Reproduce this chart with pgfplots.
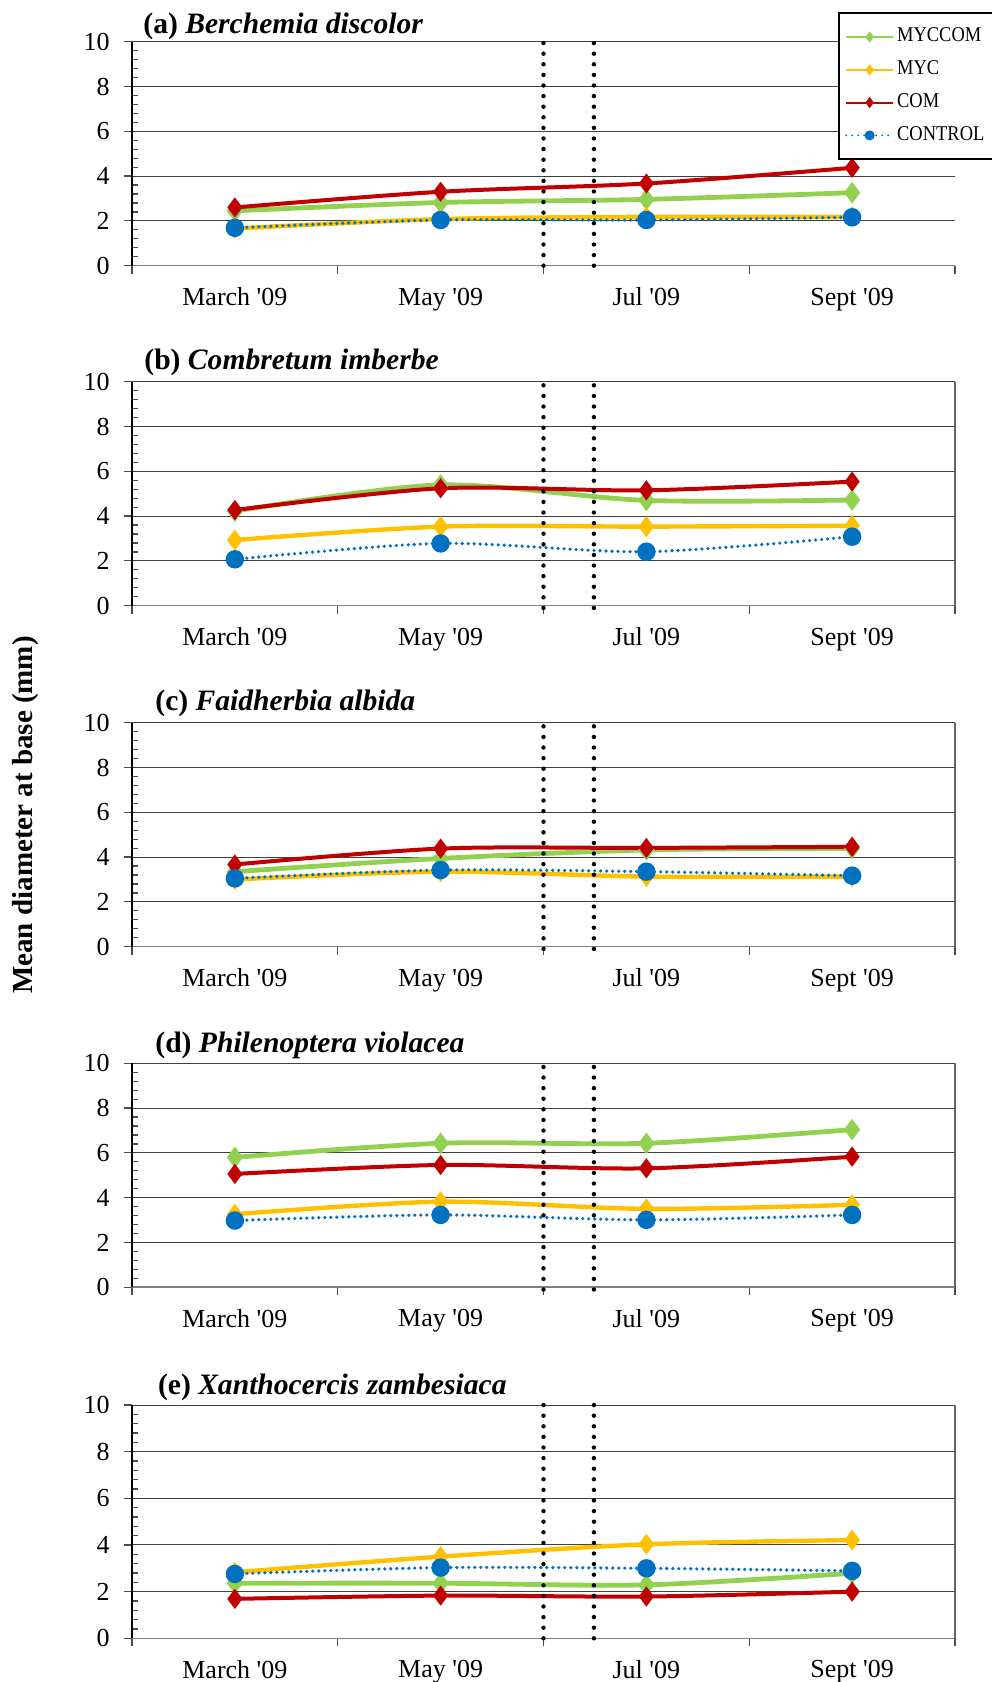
\documentclass[border=0pt]{standalone}
\usepackage{fontspec}
\setmainfont{Liberation Serif}
\newfontfamily\legfont[FakeStretch=0.88]{Liberation Serif}
\usepackage{pgfplots}
\usepackage{pgfplotstable}
\pgfplotsset{compat=1.18}
\definecolor{cgreen}{HTML}{92D050}
\definecolor{cyellow}{HTML}{FFC000}
\definecolor{cred}{HTML}{C00000}
\definecolor{cblue}{HTML}{0070C0}

\pgfplotstableread{
x g y r b
1 2.45 1.66 2.60 1.69
2 2.82 2.08 3.30 2.04
3 2.96 2.18 3.67 2.04
4 3.26 2.18 4.37 2.16
}\dataA
\pgfplotstableread{
x g y r b
1 4.22 2.93 4.27 2.07
2 5.39 3.53 5.24 2.78
3 4.70 3.53 5.15 2.41
4 4.72 3.57 5.54 3.08
}\dataB
\pgfplotstableread{
x g y r b
1 3.35 3.00 3.67 3.05
2 3.94 3.35 4.38 3.42
3 4.32 3.13 4.41 3.35
4 4.39 3.13 4.46 3.17
}\dataC
\pgfplotstableread{
x g y r b
1 5.80 3.26 5.06 2.98
2 6.43 3.82 5.46 3.23
3 6.43 3.50 5.31 3.01
4 7.04 3.68 5.83 3.23
}\dataD
\pgfplotstableread{
x g y r b
1 2.36 2.83 1.69 2.76
2 2.36 3.50 1.83 3.03
3 2.29 4.03 1.79 3.00
4 2.79 4.21 2.00 2.89
}\dataE

\tikzset{ttl/.style={anchor=base west, inner sep=0pt, font=\fontsize{14.8}{17}\selectfont\bfseries}}

\pgfplotsset{
  leg/.style={legend image code/.code={\draw[mark repeat=2,mark phase=2,line width=1pt] plot coordinates {(0pt,0pt) (11.75pt,0pt) (23.5pt,0pt)};}},
  sgreen/.style={cgreen, line width=2.4pt, smooth, tension=0.5, mark=diamond*, mark size=3.4pt, mark options={solid, fill=cgreen}, leg},
  syellow/.style={cyellow, line width=2.2pt, smooth, tension=0.5, mark=diamond*, mark size=3.4pt, mark options={solid, fill=cyellow}, leg},
  sred/.style={cred, line width=2pt, smooth, tension=0.5, mark=diamond*, mark size=3.4pt, mark options={solid, fill=cred}, leg},
  sblue/.style={cblue, line width=1.8pt, dash pattern=on 0pt off 3pt, line cap=round, smooth, tension=0.5, mark=*, mark size=3.7pt, mark options={solid, fill=cblue}, leg},
  vline/.style={black, line width=2.2pt, dash pattern=on 0pt off 5.3pt, line cap=round, forget plot},
  panel/.style 2 args={
    at={(66pt,#1)}, anchor=south west, scale only axis,
    width=411.5pt, height=#2,
    xmin=0.5, xmax=4.5, ymin=0, ymax=10,
    axis lines*=left, clip=false,
    x axis line style={draw=black!50, line width=0.8pt},
    y axis line style={draw=black, line width=0.6pt},
    ytick={0,2,...,10}, minor y tick num=4,
    ymajorgrids, major grid style={black!75, line width=0.5pt},
    xtick={0.5,1.5,...,4.5}, xticklabels={},
    extra x ticks={1,2,3,4},
    extra x tick labels={March \textquotesingle09, May \textquotesingle09, Jul \textquotesingle09, Sept \textquotesingle09},
    extra x tick style={major tick length=0pt},
    tick align=outside, major tick length=4pt, minor tick length=3pt,
    minor y tick style={xshift=3pt},
    tick style={black!70, line width=0.6pt},
    tick label style={font=\fontsize{13}{15}\selectfont},
    /pgf/number format/assume math mode=true,
    yticklabel style={xshift=-3.7pt},
    xticklabel style={yshift=-7.6pt},
  },
}

\begin{document}
\begin{tikzpicture}
\useasboundingbox (0,0) rectangle (495.5pt,841pt);

% (a)
\begin{axis}[panel={708.15pt}{112pt},
  legend cell align=left,
  legend style={at={(0.858,1.1326)}, anchor=north west, draw=black, line width=1pt, fill=white,
    font=\legfont\fontsize{10.5}{12}\selectfont, row sep=6.4pt, inner xsep=3pt, inner ysep=7pt,
    nodes={inner ysep=0pt, inner xsep=1.5pt, text height=7.5pt, text depth=2.5pt}},
  legend image post style={mark size=2pt}]
\addplot[sgreen] table[x=x,y=g]{\dataA};
\addlegendentry{MYCCOM}
\addplot[syellow] table[x=x,y=y]{\dataA};
\addlegendentry{MYC}
\addplot[sred] table[x=x,y=r]{\dataA};
\addlegendentry{COM}
\addplot[sblue] table[x=x,y=b]{\dataA};
\addlegendentry{CONTROL}
\addplot[vline] coordinates {(2.5,0) (2.5,10)};
\addplot[vline] coordinates {(2.745,0) (2.745,10)};
\node[ttl, xshift=5.5pt, yshift=4.3pt] at (rel axis cs:0,1) {(a) \textit{Berchemia discolor}};
\end{axis}

% (b)
\begin{axis}[panel={538.15pt}{112pt}]
\addplot[sgreen] table[x=x,y=g]{\dataB};
\addplot[syellow] table[x=x,y=y]{\dataB};
\addplot[sred] table[x=x,y=r]{\dataB};
\addplot[sblue] table[x=x,y=b]{\dataB};
\addplot[vline] coordinates {(2.5,-0.1) (2.5,10.1)};
\addplot[vline] coordinates {(2.745,-0.1) (2.745,10.1)};
\draw[black!60, line width=0.6pt] (rel axis cs:1,0) -- (rel axis cs:1,1);
\node[ttl, xshift=6pt, yshift=5.9pt] at (rel axis cs:0,1) {(b) \textit{Combretum imberbe}};
\end{axis}

% (c)
\begin{axis}[panel={367.65pt}{112pt}]
\addplot[sgreen] table[x=x,y=g]{\dataC};
\addplot[syellow] table[x=x,y=y]{\dataC};
\addplot[sred] table[x=x,y=r]{\dataC};
\addplot[sblue] table[x=x,y=b]{\dataC};
\addplot[vline] coordinates {(2.5,-0.1) (2.5,10.1)};
\addplot[vline] coordinates {(2.745,-0.1) (2.745,10.1)};
\draw[black!60, line width=0.6pt] (rel axis cs:1,0) -- (rel axis cs:1,1);
\node[ttl, xshift=11.5pt, yshift=6.3pt] at (rel axis cs:0,1) {(c) \textit{Faidherbia albida}};
\end{axis}

% (d)
\begin{axis}[panel={197.35pt}{112pt}]
\addplot[sgreen] table[x=x,y=g]{\dataD};
\addplot[syellow] table[x=x,y=y]{\dataD};
\addplot[sred] table[x=x,y=r]{\dataD};
\addplot[sblue] table[x=x,y=b]{\dataD};
\addplot[vline] coordinates {(2.5,-0.1) (2.5,10.1)};
\addplot[vline] coordinates {(2.745,-0.1) (2.745,10.1)};
\draw[black!60, line width=0.6pt] (rel axis cs:1,0) -- (rel axis cs:1,1);
\node[ttl, xshift=11.5pt, yshift=5.5pt] at (rel axis cs:0,1) {(d) \textit{Philenoptera violacea}};
\end{axis}

% (e)
\begin{axis}[panel={21.85pt}{116.65pt}]
\addplot[sgreen] table[x=x,y=g]{\dataE};
\addplot[syellow] table[x=x,y=y]{\dataE};
\addplot[sred] table[x=x,y=r]{\dataE};
\addplot[sblue] table[x=x,y=b]{\dataE};
\addplot[vline] coordinates {(2.5,0) (2.5,10)};
\addplot[vline] coordinates {(2.745,0) (2.745,10)};
\draw[black!60, line width=0.6pt] (rel axis cs:1,0) -- (rel axis cs:1,1);
\node[ttl, xshift=12.8pt, yshift=5.5pt] at (rel axis cs:0,1) {(e) \textit{Xanthocercis zambesiaca}};
\end{axis}

\node[rotate=90, font=\fontsize{14.5}{16}\selectfont\bfseries] at (13pt,433.5pt) {Mean diameter at base (mm)};
\end{tikzpicture}
\end{document}
